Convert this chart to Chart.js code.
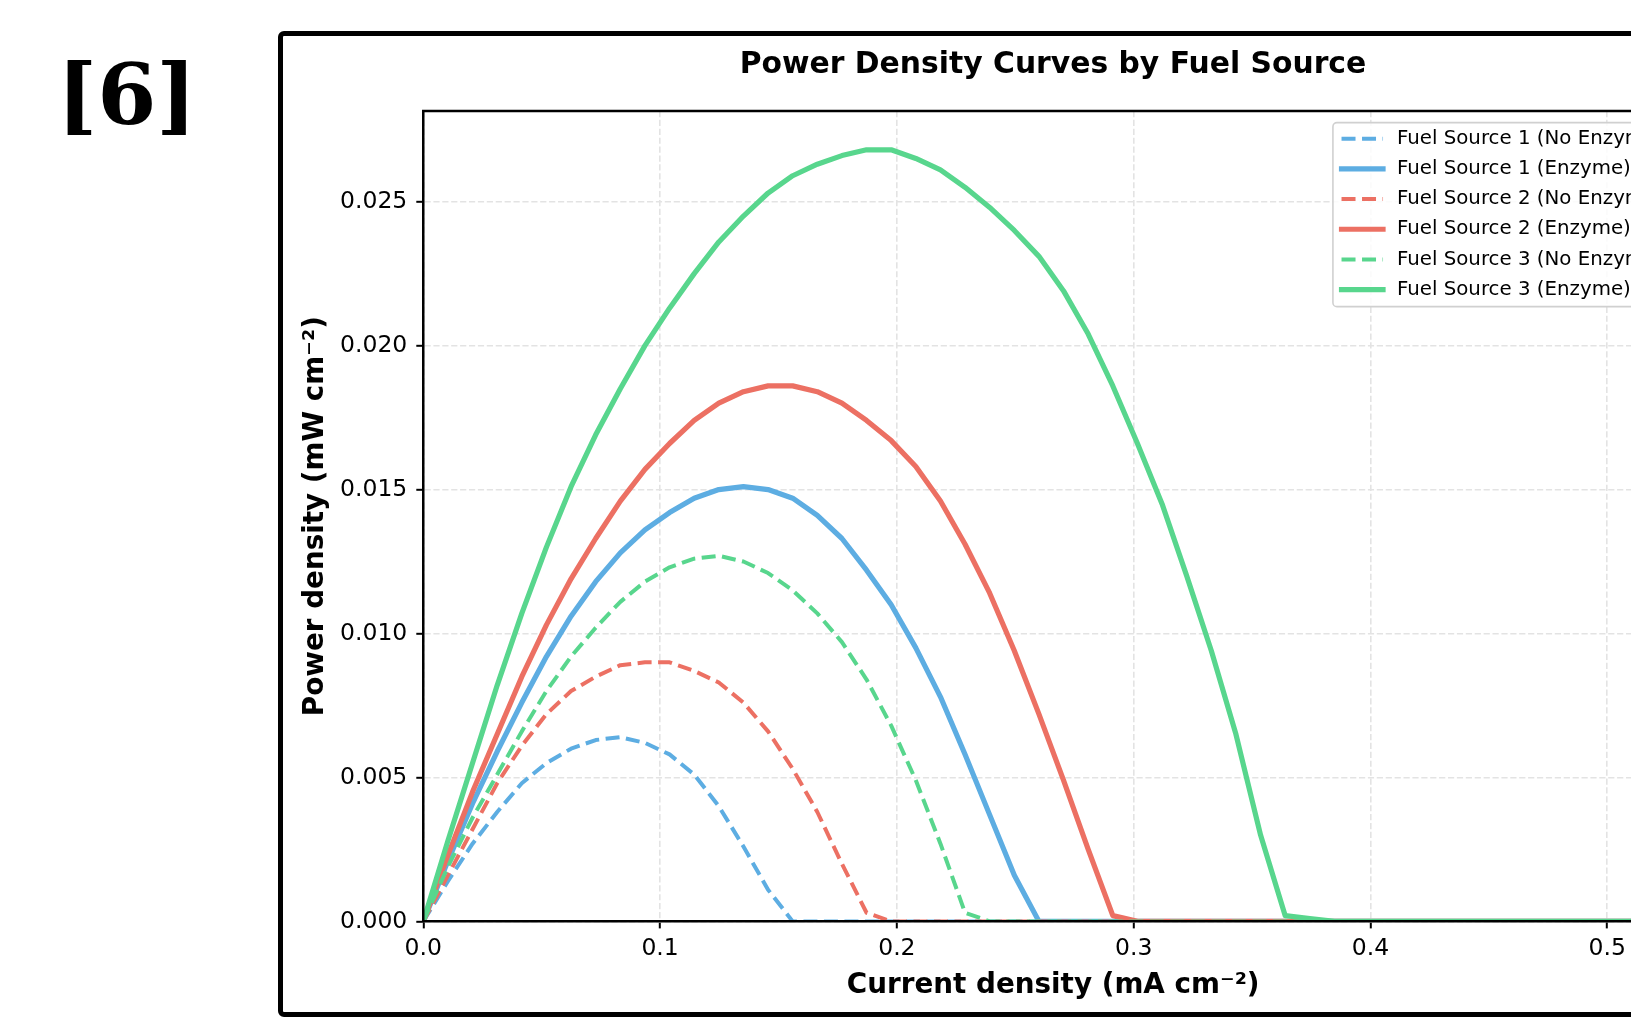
<!DOCTYPE html>
<html><head><meta charset="utf-8">
<script src="https://cdn.jsdelivr.net/npm/chart.js@4.4.1/dist/chart.umd.min.js"></script>
<style>
html,body{margin:0;padding:0;background:#fff;}
body{width:1631px;height:1017px;overflow:hidden;position:relative;}
#label{position:absolute;left:57px;top:52px;font:bold 85px "DejaVu Serif",serif;line-height:85px;color:#000;white-space:nowrap;}
#frame{position:absolute;left:278px;top:31px;width:1800px;height:986px;box-sizing:border-box;border:5px solid #000;border-radius:6px;}
#wrap{position:absolute;left:283px;top:36px;width:1540px;height:976px;}
</style></head><body>
<div id="label">[6]</div>
<div id="frame"></div>
<div id="wrap"><canvas id="c" width="1540" height="976" style="width:1540px;height:976px"></canvas></div>
<script>
// ---- data ----
const currents = [0, 0.0104, 0.0208, 0.0312, 0.0416, 0.052, 0.0624, 0.0728, 0.0832, 0.0936,
  0.104, 0.1144, 0.1248, 0.1352, 0.1456, 0.156, 0.1664, 0.1768, 0.1872, 0.1976,
  0.208, 0.2184, 0.2288, 0.2392, 0.2496, 0.26, 0.2704, 0.2808, 0.2912, 0.3016,
  0.312, 0.3224, 0.3328, 0.3432, 0.3536, 0.364, 0.3744, 0.3848, 0.3952, 0.4056,
  0.416, 0.4264, 0.4368, 0.4472, 0.4576, 0.468, 0.4784, 0.4888, 0.4992, 0.5096,
  0.52, 0.5304];

const fs1NoEnzyme = [0, 0.0014, 0.0027, 0.0038, 0.0048, 0.0055, 0.0060, 0.0063, 0.0064, 0.0062,
  0.0058, 0.0051, 0.0040, 0.0026, 0.0011, 0, 0, 0, 0, 0,
  0, 0, 0, 0, 0, 0, 0, 0, 0, 0,
  0, 0, 0, 0, 0, 0, 0, 0, 0, 0,
  0, 0, 0, 0, 0, 0, 0, 0, 0, 0,
  0, 0];

const fs1Enzyme = [0, 0.0021, 0.0041, 0.0059, 0.0076, 0.0092, 0.0106, 0.0118, 0.0128, 0.0136,
  0.0142, 0.0147, 0.0150, 0.0151, 0.0150, 0.0147, 0.0141, 0.0133, 0.0122, 0.0110,
  0.0095, 0.0078, 0.0058, 0.0037, 0.0016, 0, 0, 0, 0, 0,
  0, 0, 0, 0, 0, 0, 0, 0, 0, 0,
  0, 0, 0, 0, 0, 0, 0, 0, 0, 0,
  0, 0];

const fs2NoEnzyme = [0, 0.0016, 0.0032, 0.0048, 0.0061, 0.0072, 0.0080, 0.0085, 0.0089, 0.0090,
  0.0090, 0.0087, 0.0083, 0.0076, 0.0066, 0.0053, 0.0038, 0.0020, 0.0003, 0,
  0, 0, 0, 0, 0, 0, 0, 0, 0, 0,
  0, 0, 0, 0, 0, 0, 0, 0, 0, 0,
  0, 0, 0, 0, 0, 0, 0, 0, 0, 0,
  0, 0];

const fs2Enzyme = [0, 0.0023, 0.0045, 0.0065, 0.0085, 0.0103, 0.0119, 0.0133, 0.0146, 0.0157,
  0.0166, 0.0174, 0.0180, 0.0184, 0.0186, 0.0186, 0.0184, 0.0180, 0.0174, 0.0167,
  0.0158, 0.0146, 0.0131, 0.0114, 0.0094, 0.0072, 0.0049, 0.0025, 0.0002, 0,
  0, 0, 0, 0, 0, 0, 0, 0, 0, 0,
  0, 0, 0, 0, 0, 0, 0, 0, 0, 0,
  0, 0];

const fs3NoEnzyme = [0, 0.0019, 0.0036, 0.0051, 0.0066, 0.0080, 0.0092, 0.0102, 0.0111, 0.0118,
  0.0123, 0.0126, 0.0127, 0.0125, 0.0121, 0.0115, 0.0107, 0.0097, 0.0084, 0.0068,
  0.0049, 0.0027, 0.0003, 0, 0, 0, 0, 0, 0, 0,
  0, 0, 0, 0, 0, 0, 0, 0, 0, 0,
  0, 0, 0, 0, 0, 0, 0, 0, 0, 0,
  0, 0];

const fs3Enzyme = [0, 0.0028, 0.0055, 0.0082, 0.0107, 0.0130, 0.0151, 0.0169, 0.0185, 0.0200,
  0.0213, 0.0225, 0.0236, 0.0245, 0.0253, 0.0259, 0.0263, 0.0266, 0.0268, 0.0268,
  0.0265, 0.0261, 0.0255, 0.0248, 0.0240, 0.0231, 0.0219, 0.0204, 0.0186, 0.0166,
  0.0145, 0.0120, 0.0094, 0.0065, 0.0030, 0.0002, 0.0001, 0, 0, 0,
  0, 0, 0, 0, 0, 0, 0, 0, 0, 0,
  0, 0];

const seriesLabels = ['Fuel Source 1 (No Enzyme)', 'Fuel Source 1 (Enzyme)',
  'Fuel Source 2 (No Enzyme)', 'Fuel Source 2 (Enzyme)',
  'Fuel Source 3 (No Enzyme)', 'Fuel Source 3 (Enzyme)'];
const xTickValues = [0.0, 0.1, 0.2, 0.3, 0.4, 0.5];
const yTickValues = [0.000, 0.005, 0.010, 0.015, 0.020, 0.025];

// ---- styles ----
const FONT = '"DejaVu Sans", sans-serif';
const BLUE = '#5DADE2', RED = '#EC7063', GREEN = '#58D68D';
const seriesValues = [fs1NoEnzyme, fs1Enzyme, fs2NoEnzyme, fs2Enzyme, fs3NoEnzyme, fs3Enzyme];
const seriesColors = [BLUE, BLUE, RED, RED, GREEN, GREEN];
const seriesDashed = [true, false, true, false, true, false];
const DASH = [14, 6.5];

const datasets = seriesValues.map((vals, i) => ({
  label: seriesLabels[i],
  data: currents.map((x, j) => ({x: x, y: vals[j]})),
  borderColor: seriesColors[i],
  backgroundColor: seriesColors[i],
  borderWidth: seriesDashed[i] ? 4 : 5.2,
  borderDash: seriesDashed[i] ? DASH : [],
  borderCapStyle: seriesDashed[i] ? 'butt' : 'square',
  borderJoinStyle: 'round',
  pointRadius: 0,
  pointHoverRadius: 0,
  tension: 0,
  fill: false,
  clip: 0,
  yAxisID: 'y',
  order: 5 - i
}));

const spinePlugin = {
  id: 'spines',
  afterDraw(chart) {
    const {ctx, chartArea: a} = chart;
    ctx.save();
    ctx.strokeStyle = '#000';
    ctx.lineWidth = 2.5;
    ctx.setLineDash([]);
    ctx.beginPath();
    ctx.moveTo(a.left - 1.25, a.top);
    ctx.lineTo(a.right + 1.25, a.top);
    ctx.moveTo(a.right, a.top);
    ctx.lineTo(a.right, a.bottom);
    ctx.stroke();
    ctx.restore();
  }
};

const legendPlugin = {
  id: 'mplLegend',
  afterDraw(chart) {
    const {ctx, chartArea: a} = chart;
    const ds = chart.data.datasets;
    ctx.save();
    ctx.font = '19.8px ' + FONT;
    const textW = Math.max(...ds.map(d => ctx.measureText(d.label).width));
    const padL = 8.6, handleLen = 41.5, textOff = 64, padR = 9;
    const boxW = textOff + textW + padR;
    const boxH = 184;
    const right = a.right - 10;
    const left = right - boxW;
    const top = a.top + 11.7;
    const r = 4;
    ctx.beginPath();
    ctx.moveTo(left + r, top);
    ctx.lineTo(left + boxW - r, top);
    ctx.arcTo(left + boxW, top, left + boxW, top + r, r);
    ctx.lineTo(left + boxW, top + boxH - r);
    ctx.arcTo(left + boxW, top + boxH, left + boxW - r, top + boxH, r);
    ctx.lineTo(left + r, top + boxH);
    ctx.arcTo(left, top + boxH, left, top + boxH - r, r);
    ctx.lineTo(left, top + r);
    ctx.arcTo(left, top, left + r, top, r);
    ctx.closePath();
    ctx.fillStyle = 'rgba(255,255,255,0.85)';
    ctx.fill();
    ctx.lineWidth = 1.6;
    ctx.strokeStyle = '#d0d0d0';
    ctx.stroke();
    ds.forEach((d, i) => {
      const y = top + 16 + i * 30.2;
      ctx.beginPath();
      ctx.setLineDash(d.borderDash || []);
      ctx.lineCap = d.borderCapStyle;
      ctx.lineWidth = d.borderWidth;
      ctx.strokeStyle = d.borderColor;
      ctx.moveTo(left + padL, y);
      ctx.lineTo(left + padL + handleLen, y);
      ctx.stroke();
      ctx.setLineDash([]);
      ctx.fillStyle = '#000';
      ctx.textBaseline = 'middle';
      ctx.textAlign = 'left';
      ctx.fillText(d.label, left + textOff, y);
    });
    ctx.restore();
  }
};

new Chart(document.getElementById('c').getContext('2d'), {
  type: 'line',
  data: {datasets: datasets},
  options: {
    responsive: false,
    animation: false,
    devicePixelRatio: 1,
    events: [],
    layout: {padding: {left: 0, top: 0, right: 0, bottom: 0}},
    plugins: {
      legend: {display: false},
      tooltip: {enabled: false},
      title: {
        display: true,
        text: 'Power Density Curves by Fuel Source',
        color: '#000',
        font: {family: FONT, size: 29.8, weight: 'bold'},
        padding: {top: 11.7, bottom: 27.5}
      }
    },
    scales: {
      x: {
        type: 'linear',
        min: 0,
        max: 0.532,
        afterBuildTicks: s => { s.ticks = xTickValues.map(v => ({value: v})); },
        afterFit: s => { s.height = 90.6; },
        ticks: {
          callback: v => Number(v).toFixed(1),
          font: {family: FONT, size: 23.5},
          color: '#000',
          padding: 6.5,
          maxRotation: 0,
          autoSkip: false
        },
        grid: {color: '#e3e3e3', lineWidth: 1.6, tickColor: '#000', tickLength: 7, tickWidth: 2, tickBorderDash: []},
        border: {display: true, color: '#000', width: 2.5, dash: [6.2, 2.7], z: 1},
        title: {
          display: true,
          text: 'Current density (mA cm⁻²)',
          color: '#000',
          font: {family: FONT, size: 27.8, weight: 'bold'},
          padding: {top: 0, bottom: 9.3}
        }
      },
      y: {
        type: 'linear',
        position: 'left',
        min: 0,
        max: 0.02815,
        afterBuildTicks: s => { s.ticks = yTickValues.map(v => ({value: v})); },
        afterFit: s => { s.width = 140.3; },
        ticks: {
          callback: v => Number(v).toFixed(3),
          font: {family: FONT, size: 23.5},
          color: '#000',
          padding: 9
        },
        grid: {color: '#e3e3e3', lineWidth: 1.6, tickColor: '#000', tickLength: 7, tickWidth: 2, tickBorderDash: []},
        border: {display: true, color: '#000', width: 2.5, dash: [6.2, 2.7], z: 1},
        title: {
          display: true,
          text: 'Power density (mW cm⁻²)',
          color: '#000',
          font: {family: FONT, size: 27.8, weight: 'bold'},
          padding: {top: 16.3, bottom: 0}
        }
      },
      yRight: {
        type: 'linear',
        position: 'right',
        display: true,
        min: 0,
        max: 1,
        afterFit: s => { s.width = 140; },
        grid: {display: false, drawTicks: false},
        ticks: {display: false},
        border: {display: false},
        title: {display: false}
      }
    }
  },
  plugins: [spinePlugin, legendPlugin]
});
</script></body></html>
